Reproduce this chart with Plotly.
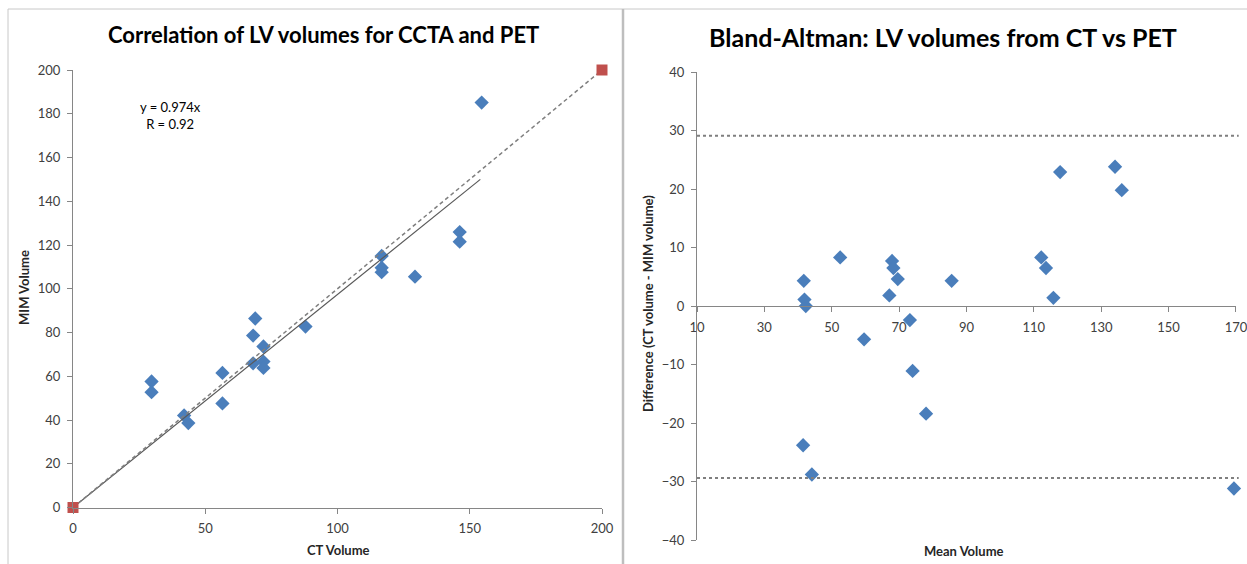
import plotly.graph_objects as go

# ---- Data: correlation chart ----
ct_volume = [154.5, 146.2, 146.2, 129.3, 116.7, 116.7, 116.7, 87.9, 68.9, 68.1,
             72.0, 68.1, 72.0, 72.0, 56.5, 56.5, 29.7, 29.7, 42.0, 43.6]
mim_volume = [185.1, 125.9, 121.5, 105.5, 115.0, 109.6, 107.6, 82.7, 86.4, 78.6,
              73.6, 65.9, 66.7, 63.8, 61.5, 47.6, 57.6, 52.7, 42.1, 38.6]
identity_x = [0, 200]
identity_y = [0, 200]
slope = 0.974
r_value = 0.92
corr_x_ticks = [0, 50, 100, 150, 200]

# ---- Data: Bland-Altman ----
mean_volume = [41.7, 41.9, 42.3, 52.5, 67.9, 68.3, 69.6, 67.1, 85.6, 112.2, 113.6,
               115.8, 117.8, 134.1, 136.1, 59.6, 73.2, 74.0, 78.0, 41.5, 44.1, 169.4]
difference = [4.3, 1.1, 0.0, 8.3, 7.7, 6.5, 4.6, 1.8, 4.3, 8.3, 6.5,
              1.4, 22.9, 23.8, 19.8, -5.7, -2.4, -11.1, -18.4, -23.8, -28.8, -31.2]
upper_loa = 29.1
lower_loa = -29.4
ba_x_ticks = [10, 30, 50, 70, 90, 110, 130, 150, 170]

W, H = 1247, 564
BLUE = "#4A7EBB"
RED = "#C0504D"
AXIS = "#868686"
TICKC = "#404040"
FONT = "Lato"

fig = go.Figure()

fig.add_trace(go.Scatter(x=ct_volume, y=mim_volume, mode="markers",
                         marker=dict(symbol="diamond", size=11, color=BLUE),
                         xaxis="x", yaxis="y", cliponaxis=False, showlegend=False))
trend_x = [0, max(ct_volume) - 0.5]
fig.add_trace(go.Scatter(x=trend_x, y=[slope * v for v in trend_x], mode="lines",
                         line=dict(color="#595959", width=1.2),
                         xaxis="x", yaxis="y", showlegend=False))
fig.add_trace(go.Scatter(x=identity_x, y=identity_y, mode="lines+markers",
                         line=dict(color="#7F7F7F", width=1.5, dash="4px,3px"),
                         marker=dict(symbol="square", size=11, color=RED),
                         xaxis="x", yaxis="y", cliponaxis=False, showlegend=False))

fig.add_trace(go.Scatter(x=mean_volume, y=difference, mode="markers",
                         marker=dict(symbol="diamond", size=11, color=BLUE),
                         xaxis="x2", yaxis="y2", cliponaxis=False, showlegend=False))

axis_common = dict(showgrid=False, zeroline=False, showline=True, linecolor=AXIS,
                   linewidth=1, ticks="outside", ticklen=5, tickcolor=AXIS,
                   ticklabelstandoff=4, ticklabeloverflow="allow",
                   tickfont=dict(family=FONT, size=13, color=TICKC))

fig.update_layout(
    width=W, height=H,
    margin=dict(l=0, r=0, t=0, b=0, autoexpand=False),
    paper_bgcolor="white", plot_bgcolor="rgba(0,0,0,0)",
    font=dict(family=FONT),
    xaxis=dict(domain=[73 / W, 602 / W], range=[0, 200], tickvals=corr_x_ticks,
               anchor="y", **axis_common),
    yaxis=dict(domain=[1 - 507.5 / H, 1 - 70 / H], range=[0, 200], dtick=20,
               anchor="x", **axis_common),
    xaxis2=dict(domain=[697 / W, 1236 / W], range=[10, 170.01], tickvals=ba_x_ticks,
                anchor="free", position=(1 - 306 / H), **axis_common),
    yaxis2=dict(domain=[1 - 540 / H, 1 - 72 / H], range=[-40, 40], dtick=10,
                anchor="x2", **axis_common),
)

for yv in (upper_loa, lower_loa):
    fig.add_shape(type="line", xref="x2 domain", yref="y2", x0=0, x1=1.005, y0=yv, y1=yv,
                  line=dict(color="#7F7F7F", width=1.8, dash="dot"))

# frame lines
fig.add_shape(type="line", xref="paper", yref="paper", x0=8 / W, x1=1, y0=1 - 9 / H, y1=1 - 9 / H,
              line=dict(color="#C8C8C8", width=1))
fig.add_shape(type="line", xref="paper", yref="paper", x0=8 / W, x1=8 / W, y0=0, y1=1 - 9 / H,
              line=dict(color="#C8C8C8", width=1))
fig.add_shape(type="line", xref="paper", yref="paper", x0=623 / W, x1=623 / W, y0=0, y1=1 - 9 / H,
              line=dict(color="#BEBEBE", width=2.5))

def ann(text, x, y, size, bold=False, angle=0, color="#000000"):
    fig.add_annotation(text=f"<b>{text}</b>" if bold else text, xref="paper", yref="paper",
                       x=x / W, y=1 - y / H, showarrow=False, textangle=angle,
                       xanchor="center", yanchor="middle",
                       font=dict(family=FONT, size=size, color=color))

ann("Correlation of LV volumes for CCTA and PET", 323, 34, 22, bold=True)
ann("Bland-Altman: LV volumes from CT vs PET", 943, 37, 25, bold=True)
ann("CT Volume", 338, 550, 13, bold=True, color="#262626")
ann("MIM Volume", 24, 288, 13, bold=True, angle=-90, color="#262626")
ann("Mean Volume", 964, 551, 13, bold=True, color="#262626")
ann("Difference (CT volume - MIM volume)", 648, 304, 13, bold=True, angle=-90, color="#262626")

fig.add_annotation(text=f"y = {slope}x<br>R = {r_value}", xref="x", yref="y", x=37, y=179,
                   showarrow=False, font=dict(family=FONT, size=13, color="#000000"))

post = ("document.documentElement.style.margin='0';document.body.style.margin='0';"
        "document.body.style.padding='0';document.documentElement.style.overflow='hidden';"
        "var gd=document.getElementById('{plot_id}');gd.style.position='fixed';"
        "gd.style.left='0px';gd.style.top='0px';")

fig.write_html("out.html", post_script=post, config={"displayModeBar": False})
